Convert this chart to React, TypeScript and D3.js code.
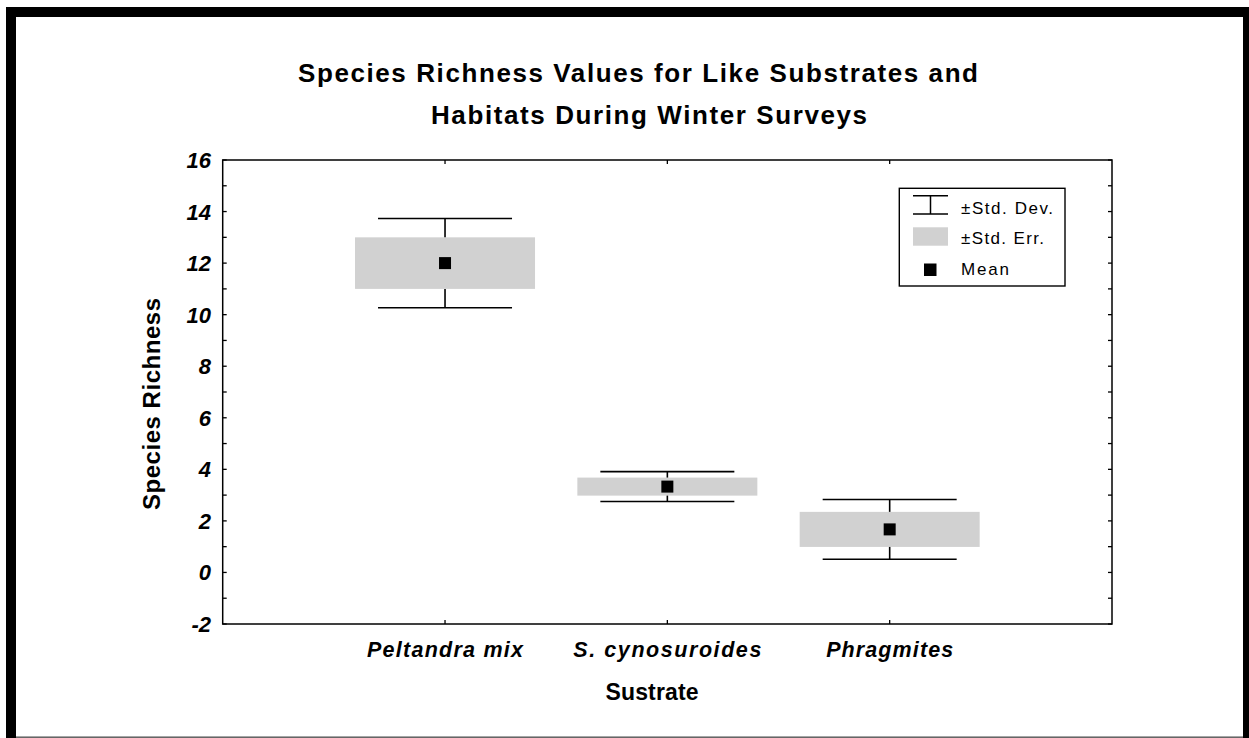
import React from "react";
import * as d3 from "d3";

const categories = ["Peltandra mix", "S. cynosuroides", "Phragmites"];
const categoryLabelWidths = [156, 188, 127];
const means = [12.0, 3.33, 1.67];
const stdErr = [1.0, 0.35, 0.68];
const stdDev = [1.73, 0.58, 1.16];
const yTicks = [-2, 0, 2, 4, 6, 8, 10, 12, 14, 16];
const yMinorTicks = [-1, 1, 3, 5, 7, 9, 11, 13, 15];

const W = 1249;
const H = 738;
const FONT = "'Liberation Sans', Arial, Helvetica, sans-serif";

export default function App() {
  const left = 222.7, right = 1112, top = 160, bottom = 624;
  const x = d3.scaleLinear().domain([0, categories.length + 1]).range([left, right]);
  const y = d3.scaleLinear().domain([-2, 16]).range([bottom, top]);
  const boxHalf = 90;
  const capHalf = 67;
  const sq = 12;
  const gray = "#d1d1d1";
  const tick = 4;

  return (
    <svg width={W} height={H} style={{ position: "absolute", left: 0, top: 0 }} fontFamily={FONT}>
      {/* frame */}
      <rect x={0} y={0} width={W} height={H} fill="#fff" />
      <rect x={6} y={7} width={W + 20} height={H + 20} fill="#000" />
      <rect x={16} y={17} width={1243 - 16} height={737 - 17} fill="#fff" />
      <line x1={16} x2={1243} y1={737} y2={737} stroke="#888" strokeWidth={1.5} />

      {/* title */}
      <text x={638} y={82} textAnchor="middle" fontSize={26} fontWeight="bold" textLength={680} lengthAdjust="spacing">
        Species Richness Values for Like Substrates and
      </text>
      <text x={649} y={124} textAnchor="middle" fontSize={26} fontWeight="bold" textLength={436} lengthAdjust="spacing">
        Habitats During Winter Surveys
      </text>

      {/* SE boxes */}
      {categories.map((c, i) => (
        <rect key={"se" + c} x={x(i + 1) - boxHalf} width={boxHalf * 2}
          y={y(means[i] + stdErr[i])} height={y(means[i] - stdErr[i]) - y(means[i] + stdErr[i])}
          fill={gray} />
      ))}
      {/* SD whiskers */}
      {categories.map((c, i) => {
        const cx = x(i + 1);
        const yHi = y(means[i] + stdDev[i]);
        const yLo = y(means[i] - stdDev[i]);
        const seHi = y(means[i] + stdErr[i]);
        const seLo = y(means[i] - stdErr[i]);
        return (
          <g key={"sd" + c} stroke="#000" strokeWidth={1.6}>
            <line x1={cx - capHalf} x2={cx + capHalf} y1={yHi} y2={yHi} />
            <line x1={cx - capHalf} x2={cx + capHalf} y1={yLo} y2={yLo} />
            <line x1={cx} x2={cx} y1={yHi} y2={seHi} />
            <line x1={cx} x2={cx} y1={seLo} y2={yLo} />
          </g>
        );
      })}
      {/* means */}
      {categories.map((c, i) => (
        <rect key={"m" + c} x={x(i + 1) - sq / 2} y={y(means[i]) - sq / 2} width={sq} height={sq} fill="#000" />
      ))}

      {/* axes frame */}
      <rect x={left} y={top} width={right - left} height={bottom - top} fill="none" stroke="#000" strokeWidth={1.5} />
      {yTicks.concat(yMinorTicks).map((t) => (
        <g key={"yt" + t} stroke="#000" strokeWidth={1.3}>
          <line x1={left} x2={left + tick} y1={y(t)} y2={y(t)} />
          <line x1={right} x2={right - tick} y1={y(t)} y2={y(t)} />
        </g>
      ))}
      {categories.map((c, i) => (
        <g key={"xt" + c} stroke="#000" strokeWidth={1.3}>
          <line x1={x(i + 1)} x2={x(i + 1)} y1={bottom} y2={bottom - tick} />
          <line x1={x(i + 1)} x2={x(i + 1)} y1={top} y2={top + tick} />
        </g>
      ))}
      {yTicks.map((t) => (
        <text key={"yl" + t} x={211} y={y(t) + 8} textAnchor="end" fontSize={22} fontWeight="bold" fontStyle="italic">
          {t}
        </text>
      ))}
      {categories.map((c, i) => (
        <text key={"xl" + c} x={x(i + 1)} y={657} textAnchor="middle" fontSize={21.5} fontWeight="bold" fontStyle="italic"
          textLength={categoryLabelWidths[i]} lengthAdjust="spacing">
          {c}
        </text>
      ))}

      {/* axis titles */}
      <text x={652} y={700} textAnchor="middle" fontSize={23} fontWeight="bold" textLength={93} lengthAdjust="spacing">Sustrate</text>
      <text transform={`translate(160,404) rotate(-90)`} textAnchor="middle" fontSize={24} fontWeight="bold" textLength={212} lengthAdjust="spacing">
        Species Richness
      </text>

      {/* legend */}
      <rect x={899.3} y={188.3} width={165.7} height={97.7} fill="#fff" stroke="#000" strokeWidth={1.4} />
      <g stroke="#000" strokeWidth={1.5}>
        <line x1={913} x2={948} y1={195.7} y2={195.7} />
        <line x1={913} x2={948} y1={214} y2={214} />
        <line x1={930.5} x2={930.5} y1={195.7} y2={214} />
      </g>
      <rect x={913} y={227.3} width={35} height={18.4} fill={gray} />
      <rect x={924} y={263.5} width={12.5} height={12.5} fill="#000" />
      <text x={961} y={214} fontSize={17} textLength={92} lengthAdjust="spacing">±Std. Dev.</text>
      <text x={961} y={244} fontSize={17} textLength={83} lengthAdjust="spacing">±Std. Err.</text>
      <text x={961} y={275} fontSize={17} textLength={48} lengthAdjust="spacing">Mean</text>
    </svg>
  );
}
